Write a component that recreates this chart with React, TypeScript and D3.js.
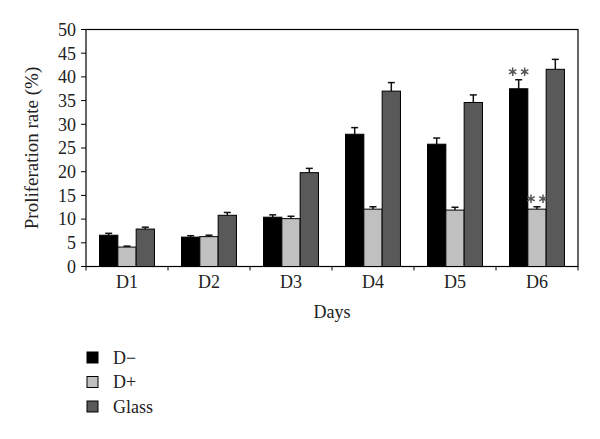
import React from "react";
import * as d3 from "d3";

const categories = ["D1", "D2", "D3", "D4", "D5", "D6"];
const seriesNames = ["D−", "D+", "Glass"];
const dMinus = [6.6, 6.2, 10.4, 27.9, 25.8, 37.5];
const dPlus = [4.1, 6.3, 10.1, 12.1, 11.9, 12.1];
const glass = [7.9, 10.8, 19.8, 37.0, 34.6, 41.6];
const dMinusErr = [0.4, 0.3, 0.5, 1.4, 1.3, 1.9];
const dPlusErr = [0.2, 0.3, 0.5, 0.5, 0.6, 0.5];
const glassErr = [0.4, 0.6, 0.9, 1.8, 1.6, 2.1];
const yTicks = [0, 5, 10, 15, 20, 25, 30, 35, 40, 45, 50];
const colors = ["#000000", "#c0c0c0", "#595959"];
const starred = [
  { cat: "D6", series: 0 },
  { cat: "D6", series: 1 },
];

export default function App() {
  const W = 600, H = 439;
  const left = 86, right = 578, top = 29.5, bottom = 266.5;
  const font = "'Liberation Serif', 'Times New Roman', serif";
  const values = [dMinus, dPlus, glass];
  const errs = [dMinusErr, dPlusErr, glassErr];

  const x = d3.scaleBand<string>().domain(categories).range([left, right]).paddingInner(0).paddingOuter(0);
  const y = d3.scaleLinear().domain([0, 50]).range([bottom, top]);
  const groupW = x.bandwidth() * 0.67;
  const inner = d3.scaleBand<number>().domain([0, 1, 2]).range([0, groupW]).padding(0);
  const bw = inner.bandwidth();
  const star = d3.symbol(d3.symbolAsterisk, 50)();

  return (
    <svg width={W} height={H} style={{ position: "absolute", left: 0, top: 0, background: "#fff" }}>
      {/* frame */}
      <rect x={left} y={top} width={right - left} height={bottom - top} fill="none" stroke="#000" strokeWidth={1.2} />
      {/* y ticks */}
      {yTicks.map((t) => (
        <g key={t}>
          <line x1={left - 5} x2={left} y1={y(t)} y2={y(t)} stroke="#000" strokeWidth={1} />
          <text x={left - 10} y={y(t)} dy="0.35em" textAnchor="end" fontFamily={font} fontSize={18} fill="#222">
            {t}
          </text>
        </g>
      ))}
      {/* x ticks between categories */}
      {categories.map((c) => (
        <line key={c} x1={x(c)!} x2={x(c)!} y1={bottom} y2={bottom + 4} stroke="#000" strokeWidth={1} />
      ))}
      <line x1={right} x2={right} y1={bottom} y2={bottom + 4} stroke="#000" strokeWidth={1} />
      {/* bars */}
      {categories.map((c, i) => {
        const gx = x(c)! + (x.bandwidth() - groupW) / 2;
        return (
          <g key={c}>
            {values.map((vals, s) => {
              const bx = gx + inner(s)!;
              const v = vals[i];
              const e = errs[s][i];
              const cx = bx + bw / 2;
              return (
                <g key={s}>
                  <line x1={cx} x2={cx} y1={y(v)} y2={y(v + e)} stroke="#111" strokeWidth={1.5} />
                  <line x1={cx - 3.5} x2={cx + 3.5} y1={y(v + e)} y2={y(v + e)} stroke="#111" strokeWidth={1.5} />
                  <rect x={bx} y={y(v)} width={bw} height={bottom - y(v)} fill={colors[s]} stroke="#000" strokeWidth={1} />
                </g>
              );
            })}
            <text x={x(c)! + x.bandwidth() / 2} y={288} textAnchor="middle" fontFamily={font} fontSize={18} fill="#222">
              {c}
            </text>
          </g>
        );
      })}
      {/* significance stars */}
      {starred.map((st, k) => {
        const i = categories.indexOf(st.cat);
        const gx = x(st.cat)! + (x.bandwidth() - groupW) / 2;
        const cx = gx + inner(st.series)! + bw / 2;
        const v = values[st.series][i] + errs[st.series][i];
        const cy = y(v) - 8;
        return (
          <g key={k}>
            {[-6, 6].map((dx) => (
              <path key={dx} d={star!} transform={`translate(${cx + dx},${cy})`} fill="none" stroke="#555" strokeWidth={1.5} />
            ))}
          </g>
        );
      })}
      {/* axis titles */}
      <text x={(left + right) / 2} y={318} textAnchor="middle" fontFamily={font} fontSize={18} fill="#222">
        Days
      </text>
      <text transform={`translate(38,${(top + bottom) / 2}) rotate(-90)`} textAnchor="middle" fontFamily={font} fontSize={19} fill="#222">
        Proliferation rate (%)
      </text>
      {/* legend */}
      {seriesNames.map((n, s) => (
        <g key={n}>
          <rect x={87} y={352 + s * 24.5} width={11} height={11} fill={colors[s]} stroke="#000" strokeWidth={1} />
          <text x={113} y={357.5 + s * 24.5} dy="0.35em" fontFamily={font} fontSize={18} fill="#222">
            {n}
          </text>
        </g>
      ))}
    </svg>
  );
}
